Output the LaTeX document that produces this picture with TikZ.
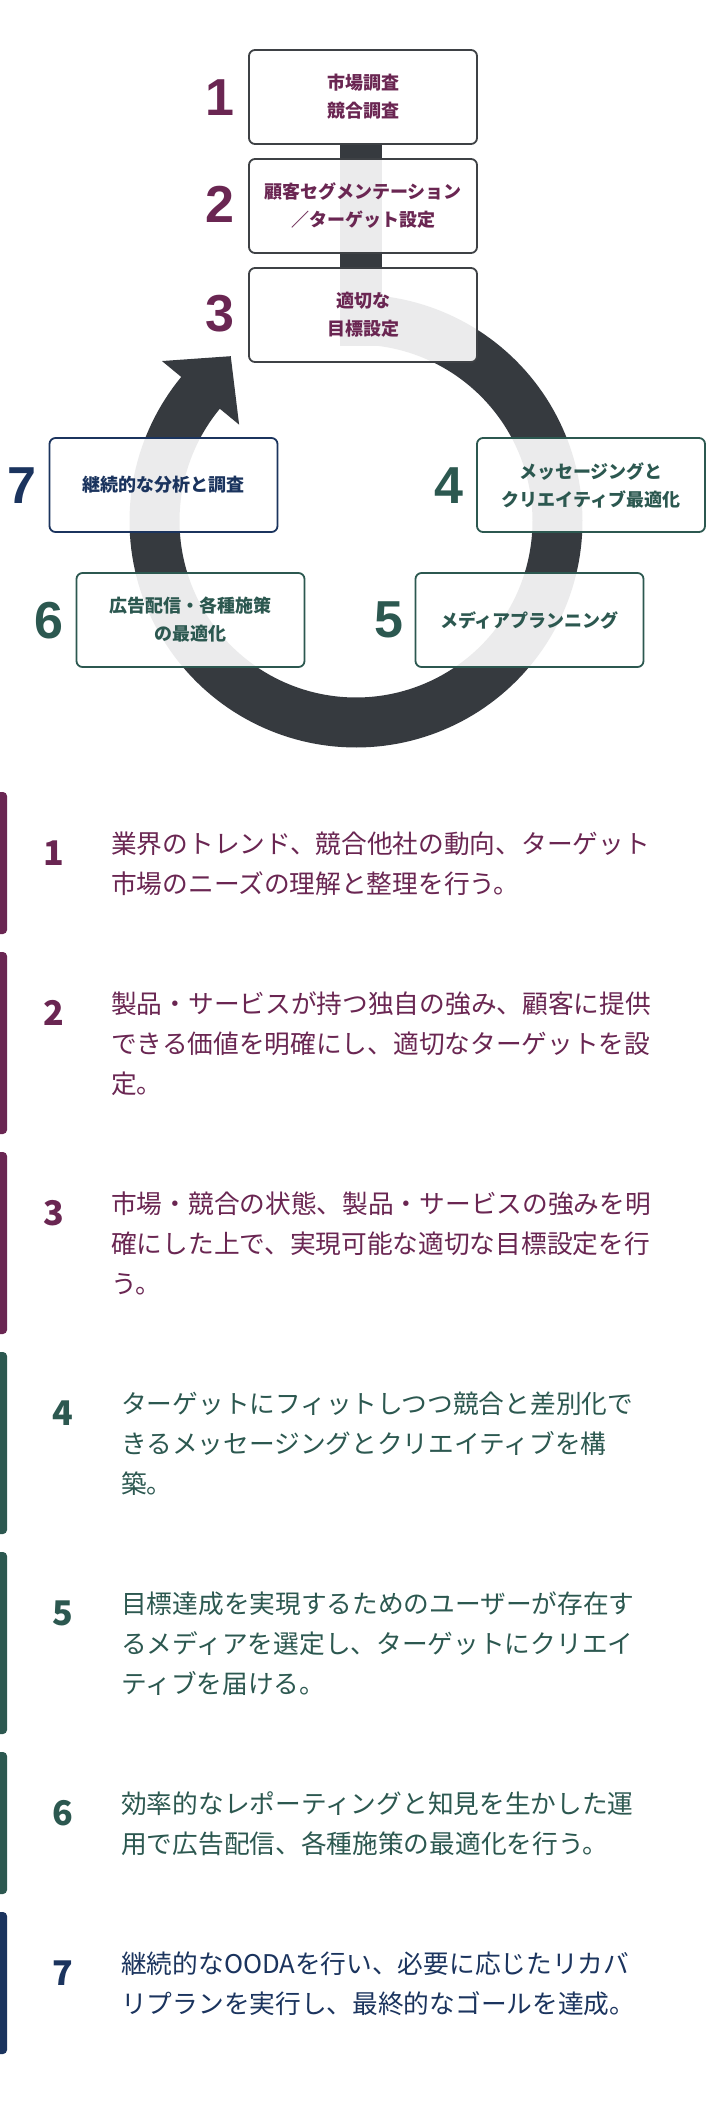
\documentclass[tikz,border=0pt]{standalone}
\usepackage{fontspec}
\newfontfamily\jpfont{Noto Sans CJK JP}
\newfontfamily\numfont{Liberation Sans}
\definecolor{pur}{HTML}{6A2652}
\definecolor{grn}{HTML}{2C5850}
\definecolor{nav}{HTML}{1B345E}
\definecolor{ringc}{HTML}{363A3F}
\definecolor{gbord}{HTML}{3E4145}
\tikzset{
  box/.style={draw, line width=1.8pt, rounded corners=6pt, fill=white, fill opacity=0.9, text opacity=1,
    minimum width=228pt, minimum height=94pt, inner sep=0pt, align=center,
    font=\jpfont\bfseries\fontsize{18}{28}\selectfont},
  bignum/.style={font=\numfont\bfseries\fontsize{52}{52}\selectfont, anchor=base, inner sep=0pt},
  listnum/.style={font=\jpfont\bfseries\fontsize{34}{34}\selectfont, anchor=base, inner sep=0pt},
  listtxt/.style={font=\jpfont\fontsize{25.7}{40}\selectfont, anchor=base west, inner sep=0pt},
  accent/.style={rounded corners=4pt}
}
\begin{document}
\begin{tikzpicture}[x=1pt,y=-1pt]
\useasboundingbox (0,0) rectangle (706,2103);
\fill[white] (0,0) rectangle (706,2103);
\clip (0,0) rectangle (706,2103);

% cycle arrow
\coordinate (ctr) at (356,521);
\fill[ringc] (340,144) rectangle (382,345.5);
\fill[ringc] plot[domain=-90:219.5, samples=180] ({356+226.5*cos(\x)},{521+226.5*sin(\x)})
  -- ({356+251.5*cos(219.5)},{521+251.5*sin(219.5)})
  -- ({356+201.5*cos(219.5)-47.5*sin(219.5)},{521+201.5*sin(219.5)+47.5*cos(219.5)})
  -- ({356+151.5*cos(219.5)},{521+151.5*sin(219.5)})
  -- plot[domain=219.5:-90, samples=180] ({356+176.5*cos(\x)},{521+176.5*sin(\x)}) -- cycle;

% boxes
\node[box, draw=gbord, text=pur] (b1) at (363,97) {市場調査\\競合調査};
\node[box, draw=gbord, text=pur] (b2) at (363,206) {顧客セグメンテーション\\／ターゲット設定};
\node[box, draw=gbord, text=pur] (b3) at (363,315) {適切な\\目標設定};
\node[box, draw=nav, text=nav] (b7) at (163.5,485) {継続的な分析と調査};
\node[box, draw=grn, text=grn] (b4) at (591,485) {メッセージングと\\クリエイティブ最適化};
\node[box, draw=grn, text=grn] (b6) at (190.5,620) {広告配信・各種施策\\の最適化};
\node[box, draw=grn, text=grn] (b5) at (529.5,620) {メディアプランニング};

% big numbers
\node[bignum, text=pur] (m1) at (220,115.5) {1};
\node[bignum, text=pur] (m2) at (220,222.5) {2};
\node[bignum, text=pur] (m3) at (220,331.5) {3};
\node[bignum, text=nav] (m7) at (21.5,503.5) {7};
\node[bignum, text=grn] (m4) at (448.5,503.5) {4};
\node[bignum, text=grn] (m6) at (48.5,638.5) {6};
\node[bignum, text=grn] (m5) at (388.5,637.5) {5};

% list
\fill[pur, accent] (-8,792) rectangle (7,934);
\node[listnum, text=pur] (n1) at (53.5,865) {1};
\node[listtxt, text=pur] (t1a) at (111,853.2) {業界のトレンド、競合他社の動向、ターゲット};
\node[listtxt, text=pur] (t1b) at (111,893.2) {市場のニーズの理解と整理を行う。};

\fill[pur, accent] (-8,952) rectangle (7,1134);
\node[listnum, text=pur] (n2) at (53.5,1025) {2};
\node[listtxt, text=pur] (t2a) at (111,1013.2) {製品・サービスが持つ独自の強み、顧客に提供};
\node[listtxt, text=pur] (t2b) at (111,1053.2) {できる価値を明確にし、適切なターゲットを設};
\node[listtxt, text=pur] (t2c) at (111,1093.2) {定。};

\fill[pur, accent] (-8,1152) rectangle (7,1334);
\node[listnum, text=pur] (n3) at (53.5,1225) {3};
\node[listtxt, text=pur] (t3a) at (111,1213.2) {市場・競合の状態、製品・サービスの強みを明};
\node[listtxt, text=pur] (t3b) at (111,1253.2) {確にした上で、実現可能な適切な目標設定を行};
\node[listtxt, text=pur] (t3c) at (111,1293.2) {う。};

\fill[grn, accent] (-8,1352) rectangle (7,1534);
\node[listnum, text=grn] (n4) at (63,1425) {4};
\node[listtxt, text=grn] (t4a) at (121,1413.2) {ターゲットにフィットしつつ競合と差別化で};
\node[listtxt, text=grn] (t4b) at (121,1453.2) {きるメッセージングとクリエイティブを構};
\node[listtxt, text=grn] (t4c) at (121,1493.2) {築。};

\fill[grn, accent] (-8,1552) rectangle (7,1734);
\node[listnum, text=grn] (n5) at (63,1625) {5};
\node[listtxt, text=grn] (t5a) at (121,1613.2) {目標達成を実現するためのユーザーが存在す};
\node[listtxt, text=grn] (t5b) at (121,1653.2) {るメディアを選定し、ターゲットにクリエイ};
\node[listtxt, text=grn] (t5c) at (121,1693.2) {ティブを届ける。};

\fill[grn, accent] (-8,1752) rectangle (7,1894);
\node[listnum, text=grn] (n6) at (63,1825) {6};
\node[listtxt, text=grn] (t6a) at (121,1813.2) {効率的なレポーティングと知見を生かした運};
\node[listtxt, text=grn] (t6b) at (121,1853.2) {用で広告配信、各種施策の最適化を行う。};

\fill[nav, accent] (-8,1912) rectangle (7,2054);
\node[listnum, text=nav] (n7) at (63,1985) {7};
\node[listtxt, text=nav] (t7a) at (121,1973.2) {継続的なOODAを行い、必要に応じたリカバ};
\node[listtxt, text=nav] (t7b) at (121,2013.2) {リプランを実行し、最終的なゴールを達成。};
\end{tikzpicture}
\end{document}
